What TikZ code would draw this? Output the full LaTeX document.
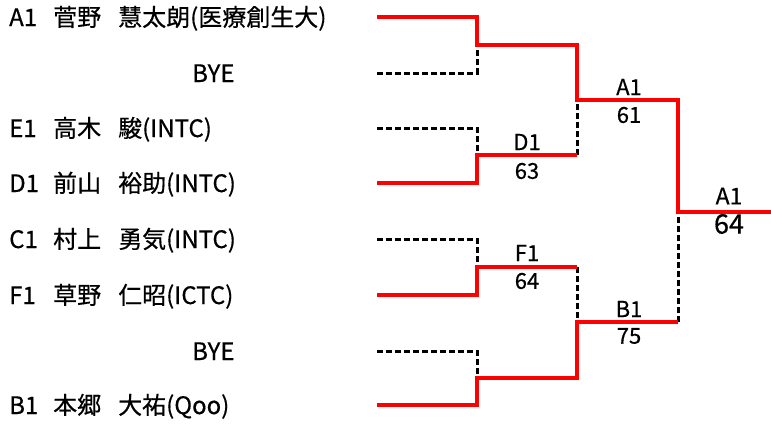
\documentclass[tikz,border=0pt]{standalone}
\usepackage{fontspec}
\setmainfont[FakeBold=0.5]{Noto Sans CJK JP}
\begin{document}
\begin{tikzpicture}[x=1pt,y=-1pt,
  win/.style={red, line width=4.5pt, line join=miter},
  lose/.style={black, line width=3pt, dash pattern=on 6pt off 3pt},
  nm/.style={anchor=base west, inner sep=0pt, font=\fontsize{24}{24}\selectfont},
  sc/.style={inner sep=0pt, font=\fontsize{22}{22}\selectfont},
  fin/.style={inner sep=0pt, font=\fontsize{27}{27}\selectfont}]
\useasboundingbox (0,0) rectangle (771,423);
% names
\foreach \i/\y/\s/\fa/\gi in {1/17/A1/菅野/慧太朗(医療創生大),3/128/E1/高木/駿(INTC),4/183/D1/前山/裕助(INTC),5/239/C1/村上/勇気(INTC),6/295/F1/草野/仁昭(ICTC),8/405/B1/本郷/大祐(Qoo)}{
  \node[nm] (seed\i) at (9,\y+9) {\s};
  \node[nm] (fam\i) at (53,\y+9) {\fa};
  \node[nm] (giv\i) at (118,\y+9) {\gi};
}
\node[nm] (bye2) at (192,73+9) {BYE};
\node[nm] (bye7) at (192,351+9) {BYE};
% coordinates
\foreach \i/\y in {1/17,2/73,3/128,4/183,5/239,6/295,7/351,8/405}{
  \coordinate (s\i) at (377,\y);
}
\coordinate (m1) at (477,45);
\coordinate (m2) at (477,155);
\coordinate (m3) at (477,267);
\coordinate (m4) at (477,378);
\coordinate (n1) at (577,45);
\coordinate (n2) at (577,155);
\coordinate (n3) at (577,267);
\coordinate (n4) at (577,378);
\coordinate (p1) at (577,100);
\coordinate (p2) at (577,322);
\coordinate (q1) at (678,100);
\coordinate (q2) at (678,322);
\coordinate (f) at (678,212);
\coordinate (e) at (771,212);
% losers
\draw[lose] (s2) -| (m1);
\draw[lose] (s3) -| (m2);
\draw[lose] (s5) -| (m3);
\draw[lose] (s7) -| (m4);
\draw[lose] (n2) -- (p1);
\draw[lose] (n3) -- (p2);
\draw[lose] (q2) -- (f);
% winners
\draw[win] (s1) -| (m1) -- (n1) -- (p1) -- (q1) -- (f) -- (e);
\draw[win] (s4) -| (m2) -- (n2);
\draw[win] (s6) -| (m3) -- (n3);
\draw[win] (s8) -| (m4) -- (n4) -- (p2) -- (q2);
% labels
\node[sc] (wD) at (527,142) {D1};
\node[sc] (sD) at (527,171) {63};
\node[sc] (wF) at (527,253) {F1};
\node[sc] (sF) at (527,281) {64};
\node[sc] (wA) at (629,87) {A1};
\node[sc] (sA) at (629,115) {61};
\node[sc] (wB) at (629,309) {B1};
\node[sc] (sB) at (629,336) {75};
\node[sc,font=\fontsize{23}{23}\selectfont] (wF2) at (729,196) {A1};
\node[fin] (sF2) at (729,224) {64};
\end{tikzpicture}
\end{document}
